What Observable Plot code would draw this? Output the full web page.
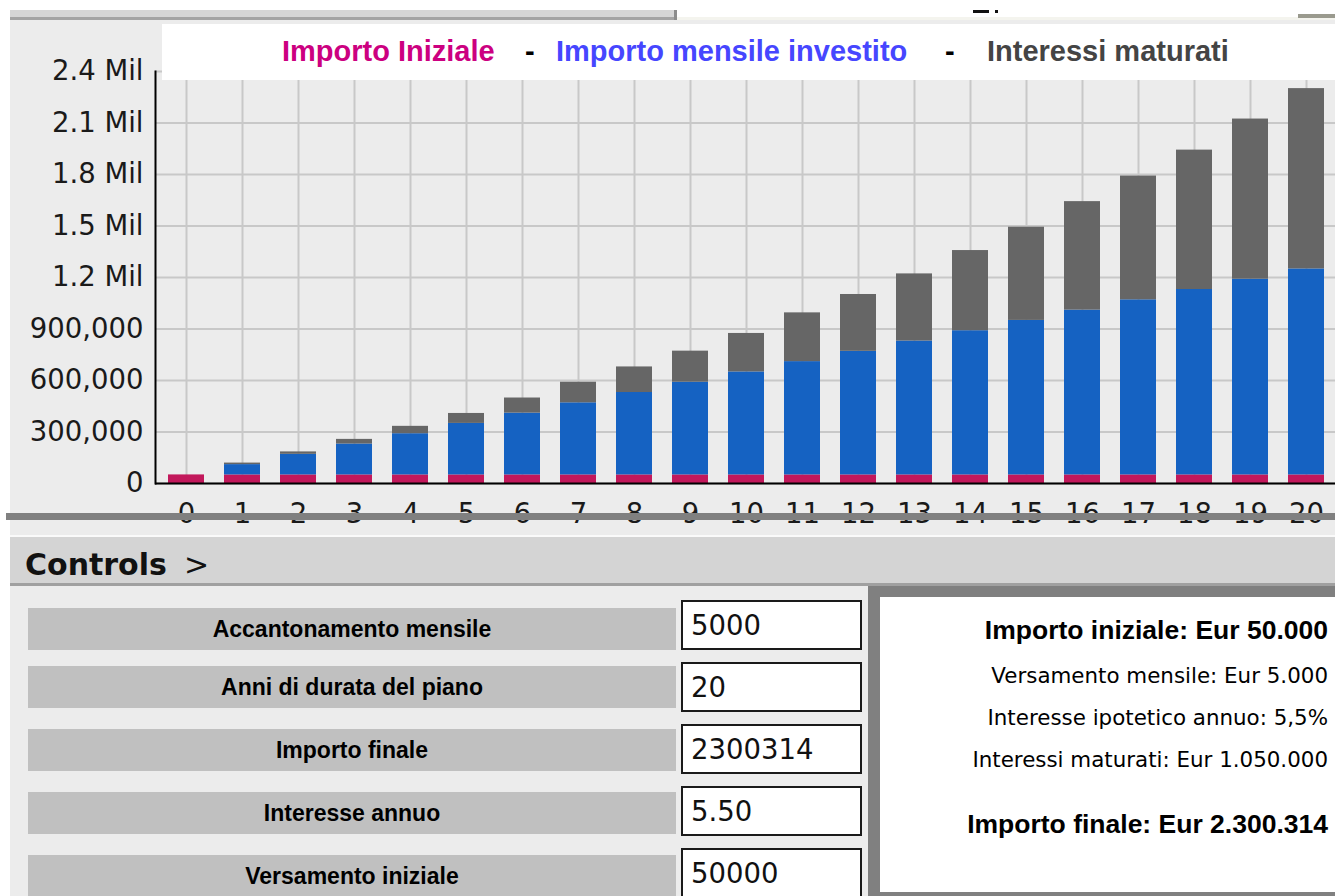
<!DOCTYPE html>
<html>
<head>
<meta charset="utf-8">
<script src="https://cdn.jsdelivr.net/npm/d3@7"></script>
<script src="https://cdn.jsdelivr.net/npm/@observablehq/plot@0.6"></script>
<style>
  html, body { margin:0; padding:0; }
  body { width:1335px; height:896px; overflow:hidden; background:#fff; position:relative; font-family:"Liberation Sans", Arial, sans-serif; }
  .abs { position:absolute; }
  .leg { position:absolute; top:36.5px; font:bold 29px/29px "Liberation Sans", Arial, sans-serif; white-space:nowrap; }
  .lbl { position:absolute; left:28px; width:648px; height:42px; background:#c0c0c0; display:flex; align-items:center; justify-content:center; font:bold 23px "Liberation Sans", Arial, sans-serif; color:#000; }
  .inp { position:absolute; left:681px; width:177px; height:46px; background:#fff; border:2px solid #1a1a1a; display:flex; align-items:center; padding-left:0; font:27.5px "DejaVu Sans", sans-serif; color:#111; }
  .inp span { margin-left:8px; }
  .res { position:absolute; right:7px; white-space:nowrap; color:#000; }
  .resB { font:bold 26.5px/26.5px "Liberation Sans", Arial, sans-serif; }
  .resN { font:21.4px/21.4px "DejaVu Sans", sans-serif; }
</style>
</head>
<body>
<script>
// ---- Data ----
const years = [0,1,2,3,4,5,6,7,8,9,10,11,12,13,14,15,16,17,18,19,20];
const seriesNames = ["Importo Iniziale", "Importo mensile investito", "Interessi maturati"];
const seriesColors = ["#c2185b", "#1562c2", "#666666"];
const importoIniziale = [50000,50000,50000,50000,50000,50000,50000,50000,50000,50000,50000,50000,50000,50000,50000,50000,50000,50000,50000,50000,50000];
const importoMensile = [0,60000,120000,180000,240000,300000,360000,420000,480000,540000,600000,660000,720000,780000,840000,900000,960000,1020000,1080000,1140000,1200000];
const interessiMaturati = [0,9000,14000,27000,43000,58000,88000,120000,149000,181000,224000,284000,331000,391000,467000,543000,632000,721000,812000,933000,1050314];
const yTicks = [0,300000,600000,900000,1200000,1500000,1800000,2100000,2400000];
const yTickLabels = ["0","300,000","600,000","900,000","1.2 Mil","1.5 Mil","1.8 Mil","2.1 Mil","2.4 Mil"];
const legendColors = ["#cc0080", "#4646ff", "#444444"];

const controlLabels = ["Accantonamento mensile","Anni di durata del piano","Importo finale","Interesse annuo","Versamento iniziale"];
const controlValues = ["5000","20","2300314","5.50","50000"];
const resultLines = [
  ["Importo iniziale: Eur 50.000", "B"],
  ["Versamento mensile: Eur 5.000", "N"],
  ["Interesse ipotetico annuo: 5,5%", "N"],
  ["Interessi maturati: Eur 1.050.000", "N"],
  ["Importo finale: Eur 2.300.314", "B"]
];

// ---- layout helpers ----
function box(l, t, w, h, bg, extra) {
  const d = document.createElement("div");
  d.className = "abs";
  Object.assign(d.style, {left:l+"px", top:t+"px", width:w+"px", height:h+"px", background:bg}, extra || {});
  document.body.appendChild(d);
  return d;
}

// top strip
box(10, 10, 667, 7, "#d6d6d6");
box(10, 17, 667, 3, "#a4a4a4");
box(674, 10, 3, 10, "#8c8c8c");
box(677, 17, 658, 3, "#f4f4ee");
box(973, 10, 16, 3, "#111");
box(995, 10, 3, 3, "#111");
box(1298, 14, 37, 4, "#9a9a8e");

// chart background
box(10, 20, 1325, 515, "#ececec");

// chart
const data = years.flatMap((yr, i) => [
  {year: yr, series: seriesNames[0], value: importoIniziale[i]},
  {year: yr, series: seriesNames[1], value: importoMensile[i]},
  {year: yr, series: seriesNames[2], value: interessiMaturati[i]}
]);

const chart = Plot.plot({
  width: 1335,
  height: 540,
  marginTop: 71,
  marginBottom: 57,
  marginLeft: 155,
  marginRight: 0,
  style: {background: "transparent", fontFamily: "DejaVu Sans, sans-serif", fontSize: "27.5px", color: "#1a1a1a", overflow: "visible"},
  x: {type: "band", domain: years, range: [154, 1337], paddingInner: 0.36, paddingOuter: 0.18, label: null},
  y: {domain: [0, 2400000], label: null},
  color: {domain: seriesNames, range: seriesColors},
  marks: [
    Plot.gridY({ticks: yTicks, stroke: "#c8c8c8", strokeOpacity: 1, strokeWidth: 2}),
    Plot.gridX({stroke: "#c8c8c8", strokeOpacity: 1, strokeWidth: 2}),
    Plot.barY(data, {x: "year", y: "value", fill: "series", order: seriesNames}),
    Plot.axisY({ticks: yTicks, tickFormat: d => yTickLabels[yTicks.indexOf(d)], tickSize: 0, tickPadding: 12, fontSize: 27.5, label: null}),
    Plot.axisX({tickSize: 0, tickPadding: 20, fontSize: 27.5, label: null}),
    Plot.frame({anchor: "left", stroke: "#000", strokeWidth: 2}),
    Plot.ruleY([0], {stroke: "#000", strokeWidth: 2})
  ]
});
const holder = document.createElement("div");
holder.className = "abs";
holder.style.left = "0px";
holder.style.top = "0px";
holder.appendChild(chart);
document.body.appendChild(holder);

// legend box (over the chart top)
const leg = box(162, 24, 1173, 56, "#fff");
const legItems = [
  [seriesNames[0], 282, legendColors[0]],
  ["-", 525, "#000"],
  [seriesNames[1], 556, legendColors[1]],
  ["-", 945, "#000"],
  [seriesNames[2], 987, legendColors[2]]
];
for (const [t, x, c] of legItems) {
  const s = document.createElement("div");
  s.className = "leg";
  s.textContent = t;
  s.style.left = x + "px";
  s.style.color = c;
  document.body.appendChild(s);
}

// splitter line across x labels
box(6, 513, 1329, 7, "#808080");

// controls header
box(10, 535, 1325, 2, "#fafafa");
const hdr = box(10, 537, 1325, 46, "#d4d4d4");
box(10, 583, 1325, 3, "#a0a0a0");
const ht = document.createElement("div");
ht.className = "abs";
Object.assign(ht.style, {left:"25px", top:"549.6px", font:"bold 30px/30px 'DejaVu Sans', sans-serif", color:"#111", whiteSpace:"nowrap"});
ht.innerHTML = 'Controls<span style="margin-left:17px;font-weight:normal">&gt;</span>';
document.body.appendChild(ht);

// left controls panel
box(10, 586, 858, 310, "#ececec");
const lblTops = [608, 666, 729, 792, 855];
const inpTops = [600, 662, 724, 786, 848];
controlLabels.forEach((t, i) => {
  const d = document.createElement("div");
  d.className = "lbl";
  d.style.top = lblTops[i] + "px";
  d.textContent = t;
  document.body.appendChild(d);
  const e = document.createElement("div");
  e.className = "inp";
  e.style.top = inpTops[i] + "px";
  e.innerHTML = "<span>" + controlValues[i] + "</span>";
  document.body.appendChild(e);
});

// right result panel
box(868, 586, 467, 310, "#808080");
box(880, 597, 455, 295, "#fff");
const resTops = [616.9, 664.9, 707.2, 748.9, 810.6];
resultLines.forEach(([t, k], i) => {
  const d = document.createElement("div");
  d.className = "res " + (k === "B" ? "resB" : "resN");
  d.style.top = resTops[i] + "px";
  d.textContent = t;
  document.body.appendChild(d);
});
</script>
</body>
</html>
